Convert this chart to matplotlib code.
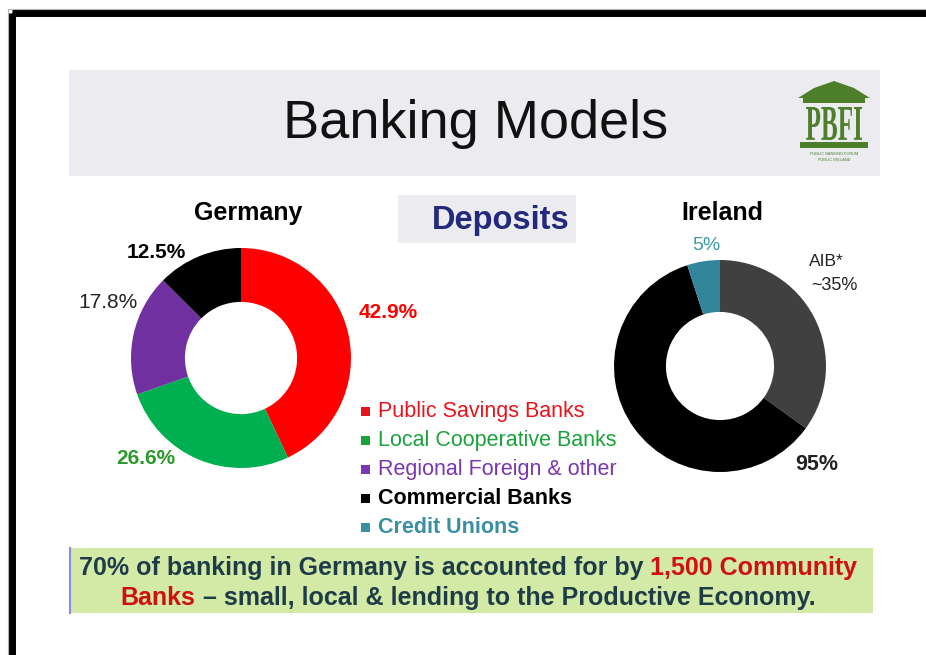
import matplotlib
matplotlib.use("Agg")
import matplotlib.pyplot as plt
from matplotlib.patches import Rectangle, Polygon, PathPatch
from matplotlib.textpath import TextPath
from matplotlib.font_manager import FontProperties
from matplotlib.transforms import Affine2D

plt.rcParams["font.family"] = ["Liberation Sans", "DejaVu Sans"]

# --- data ---
germany_labels = ["Public Savings Banks", "Local Cooperative Banks",
                  "Regional Foreign & other", "Commercial Banks"]
germany_share = [42.9, 26.6, 17.8, 12.5]
germany_colors = ["#ff0000", "#00b050", "#7030a0", "#000000"]

ireland_labels = ["AIB*", "Commercial Banks", "Credit Unions"]
ireland_share = [35, 60, 5]
ireland_colors = ["#404040", "#000000", "#31869b"]

legend_labels = ["Public Savings Banks", "Local Cooperative Banks",
                 "Regional Foreign & other", "Commercial Banks", "Credit Unions"]
legend_colors = ["#e8141c", "#1aa33c", "#7a35b0", "#000000", "#3a8fa3"]
legend_bold = [False, False, False, True, True]

W, H = 926, 655
fig = plt.figure(figsize=(W / 100, H / 100), dpi=100)
fig.patch.set_facecolor("white")

# background layer in pixel coordinates (y downwards)
bg = fig.add_axes([0, 0, 1, 1])
bg.set_xlim(0, W)
bg.set_ylim(H, 0)
bg.axis("off")

# slide frame
bg.add_patch(Rectangle((11.5, 13), W + 20, H + 20, fill=False,
                       edgecolor="black", linewidth=5))
bg.add_patch(Rectangle((8.0, 9.0), W + 20, H + 20, fill=False,
                       edgecolor="#b0b0b0", linewidth=0.8))

# title band
bg.add_patch(Rectangle((69, 70), 811, 106, facecolor="#ececf0", edgecolor="none"))
bg.text(476, 124, "Banking Models", fontsize=39, ha="center", va="center",
        color="#111111")

# PBFI logo
green = "#4d7f2a"
bg.add_patch(Polygon([(798, 98), (814, 88), (834, 81), (854, 88), (870, 98)],
                     closed=True, facecolor=green, edgecolor="none"))
bg.add_patch(Rectangle((803, 98), 62, 5, facecolor=green, edgecolor="none"))
logo_path = TextPath((0, 0), "PBFI", size=10,
                     prop=FontProperties(family=["Liberation Serif", "DejaVu Serif"],
                                         weight="bold"))
ext = logo_path.get_extents()
sx = (862 - 806) / ext.width
sy = (140 - 107) / ext.height
logo_tf = Affine2D().translate(-ext.x0, -ext.y0).scale(sx, -sy).translate(806, 140)
bg.add_patch(PathPatch(logo_tf.transform_path(logo_path), facecolor=green,
                       edgecolor="none"))
bg.add_patch(Rectangle((800, 142), 68, 6, facecolor=green, edgecolor="none"))
bg.text(834, 154, "PUBLIC BANKING FORUM", fontsize=2.8, ha="center", va="center",
        color=green)
bg.text(834, 160, "PUBLIC IRELAND", fontsize=2.8, ha="center", va="center",
        color=green)

# "Deposits" box
bg.add_patch(Rectangle((398, 195), 178, 48, facecolor="#ececf0", edgecolor="none"))
bg.text(501, 220, "Deposits", fontsize=23.5, fontweight="bold", ha="center",
        va="center", color="#232a7c")

# chart titles
bg.text(248, 213, "Germany", fontsize=18, fontweight="bold", ha="center", va="center")
bg.text(722, 213, "Ireland", fontsize=18, fontweight="bold", ha="center", va="center")


def donut(cx, cy, r, values, colors):
    ax = fig.add_axes([(cx - r) / W, 1 - (cy + r) / H, 2 * r / W, 2 * r / H])
    ax.pie(values, colors=colors, startangle=90, counterclock=False, radius=1,
           wedgeprops=dict(width=0.49, edgecolor="none"))
    ax.set_xlim(-1, 1)
    ax.set_ylim(-1, 1)
    ax.set_aspect("equal")
    ax.axis("off")
    return ax


donut(241, 358, 110, germany_share, germany_colors)
donut(720, 366, 106, ireland_share, ireland_colors)

# Germany slice labels
bg.text(156, 252, f"{germany_share[3]}%", fontsize=15, fontweight="bold",
        ha="center", va="center", color="black")
bg.text(108, 303, f"{germany_share[2]}%", fontsize=15, ha="center", va="center",
        color="#222222")
bg.text(388, 313, f"{germany_share[0]}%", fontsize=15, fontweight="bold",
        ha="center", va="center", color="#ff0000")
bg.text(146, 458, f"{germany_share[1]}%", fontsize=15, fontweight="bold",
        ha="center", va="center", color="#2a9a2a")

# Ireland slice labels
bg.text(706, 246, f"{ireland_share[2]}%", fontsize=14, ha="center", va="center",
        color="#3a9aa8")
bg.text(826, 261, ireland_labels[0], fontsize=12.5, ha="center", va="center",
        color="#222222")
bg.text(834, 285, f"~{ireland_share[0]}%", fontsize=13, ha="center", va="center",
        color="#222222")
bg.text(817, 465, f"{ireland_share[0] + ireland_share[1]}%", fontsize=15.5,
        fontweight="bold", ha="center", va="center", color="#222222")

# legend
for i, (lab, col, b) in enumerate(zip(legend_labels, legend_colors, legend_bold)):
    y = 411 + i * 29.2
    bg.add_patch(Rectangle((361, y - 4.5), 9, 9, facecolor=col, edgecolor="none"))
    bg.text(378, y, lab, fontsize=15.5, ha="left", va="center", color=col,
            fontweight="bold" if b else "normal")

# bottom message band
bg.add_patch(Rectangle((69, 548), 804, 65, facecolor="#d3e9a6", edgecolor="none"))
bg.plot([70, 70], [548, 613], color="#8a8ae8", linewidth=1.5)

renderer = fig.canvas.get_renderer()
dark = "#1e3c48"
red = "#d01010"
msg_font = dict(fontsize=18, fontweight="bold", va="center")


def text_width(s):
    t = bg.text(0, 0, s + "x", **msg_font)
    w = t.get_window_extent(renderer).width
    t.remove()
    t = bg.text(0, 0, "x", **msg_font)
    w -= t.get_window_extent(renderer).width
    t.remove()
    return w


def colored_line(xc, y, parts):
    full = "".join(s for s, _ in parts)
    x0 = xc - text_width(full) / 2
    prefix = ""
    for s, c in parts:
        bg.text(x0 + text_width(prefix), y, s, color=c, ha="left", **msg_font)
        prefix += s


colored_line(468, 568, [("70% of banking in Germany is accounted for by ", dark),
                        ("1,500 Community", red)])
colored_line(468, 598, [("Banks", red),
                        (" \u2013 small, local & lending to the Productive Economy.", dark)])

fig.savefig("out.png", dpi=100)
